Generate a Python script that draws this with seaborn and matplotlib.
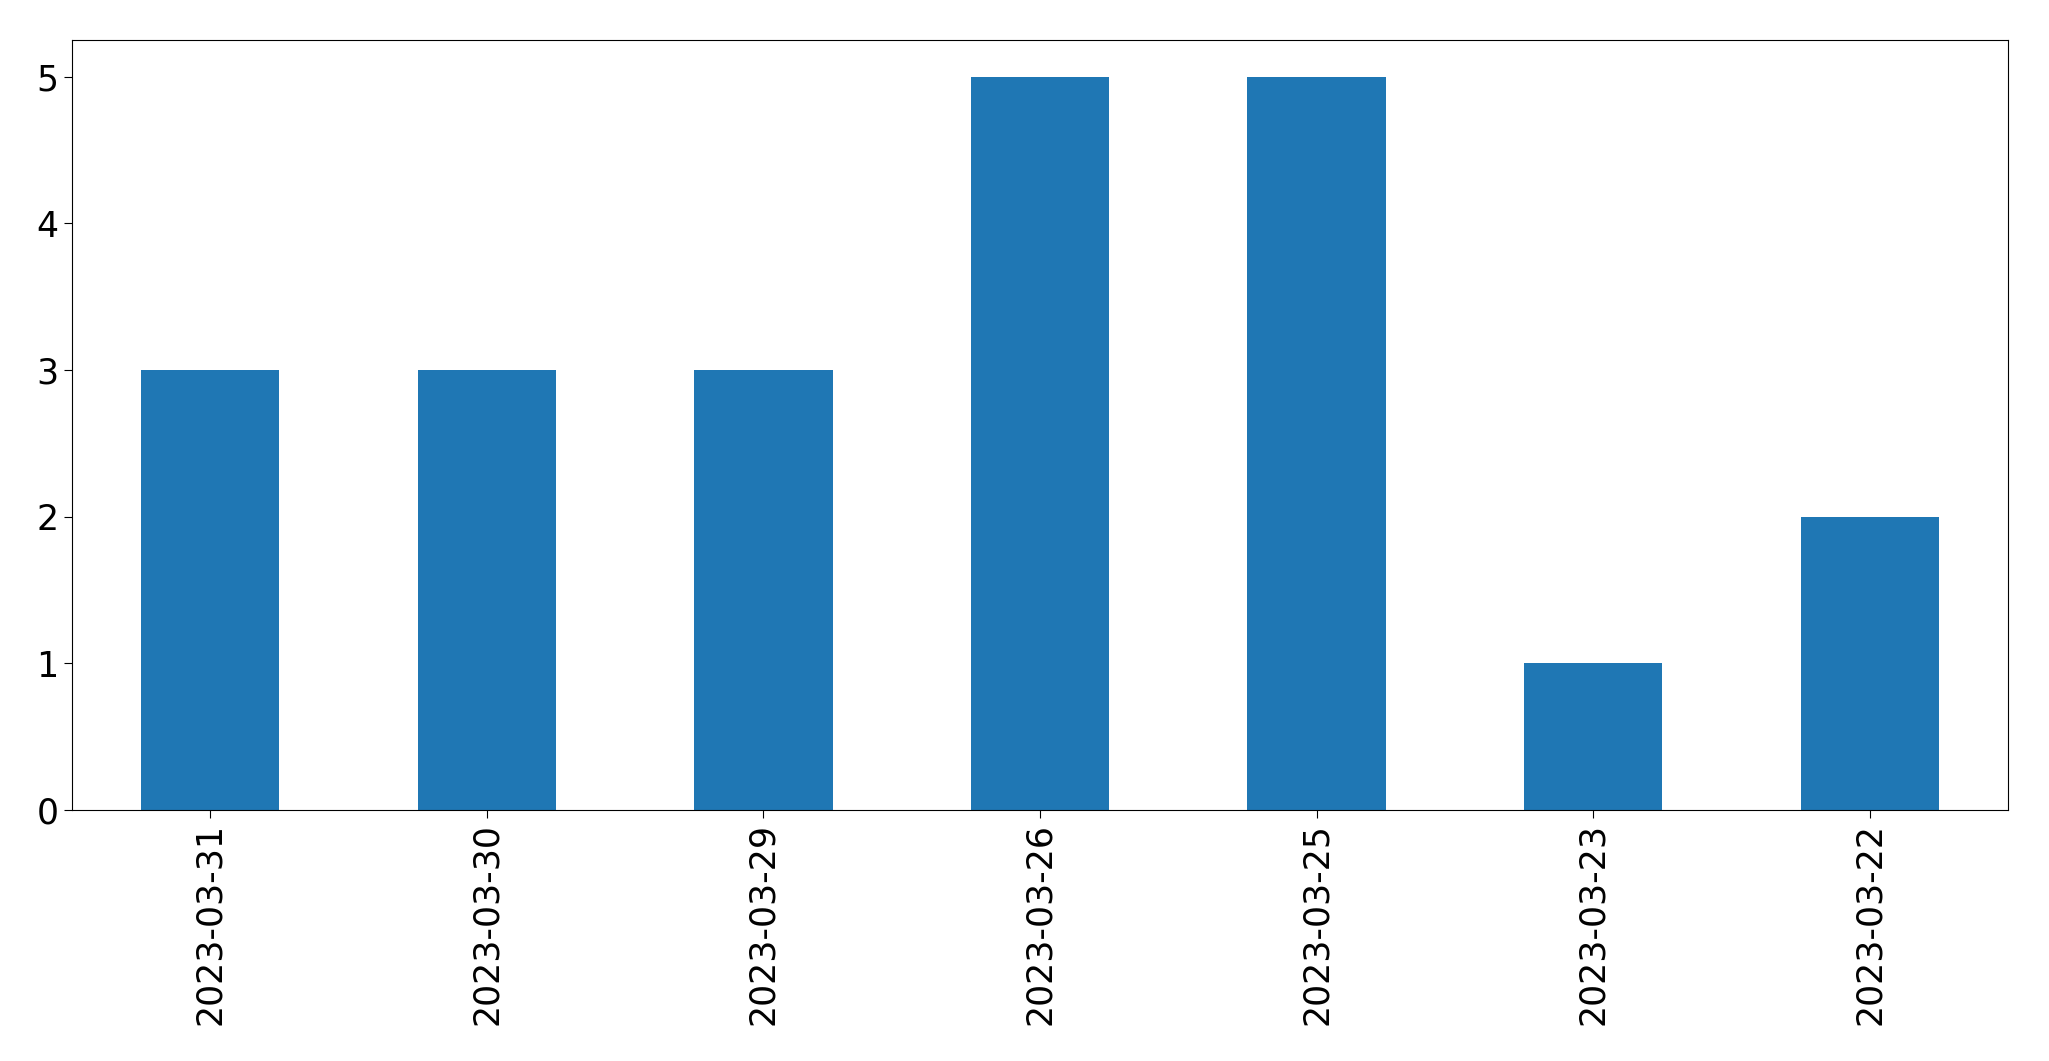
import matplotlib
matplotlib.use("Agg")
import matplotlib.pyplot as plt
import seaborn as sns
import pandas as pd

dates = ["2023-03-31", "2023-03-30", "2023-03-29", "2023-03-26", "2023-03-25", "2023-03-23", "2023-03-22"]
counts = [3, 3, 3, 5, 5, 1, 2]

df = pd.DataFrame({"date": dates, "count": counts})

fig = plt.figure(figsize=(20.49, 10.61), dpi=100)
ax = fig.add_axes([72 / 2049, 1 - 810 / 1061, (2008 - 72) / 2049, (810 - 40) / 1061])
sns.barplot(data=df, x="date", y="count", order=dates, color="#1f77b4",
            saturation=1, width=0.5, ax=ax, edgecolor="none")
ax.set_xlim(-0.5, len(dates) - 0.5)
ax.set_ylim(0, 5.25)
ax.set_xlabel("")
ax.set_ylabel("")
ax.tick_params(axis="both", labelsize=25, length=6)
ax.tick_params(axis="x", rotation=90)
for s in ax.spines.values():
    s.set_visible(True)
fig.savefig("out.png", dpi=100)
